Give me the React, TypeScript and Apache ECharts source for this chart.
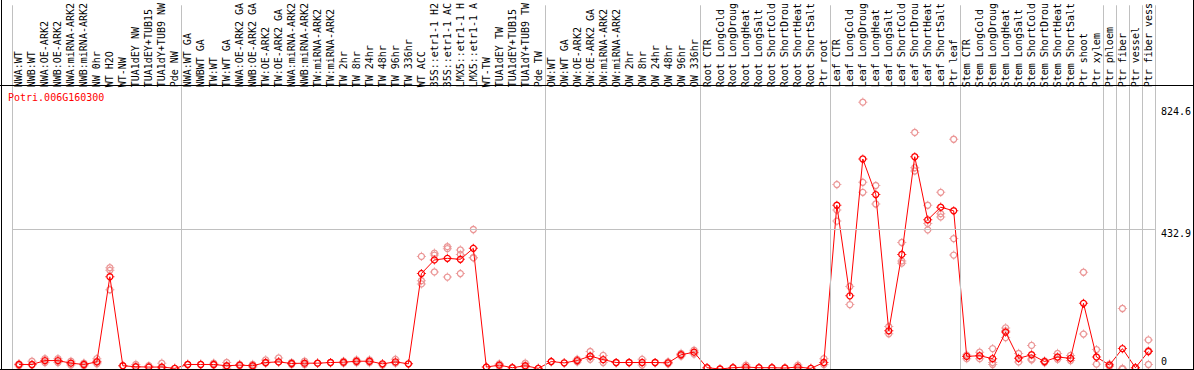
import React, { useEffect, useRef } from 'react';
import * as echarts from 'echarts';

const GENE = 'Potri.006G160300';

const CATEGORIES = [
  'NWA:WT', 'NWB:WT', 'NWA:OE-ARK2', 'NWB:OE-ARK2', 'NWA:miRNA-ARK2', 'NWB:miRNA-ARK2', 'NW 0hr', 'WT H2O', 'WT-NW',
  'TUA1dEY NW', 'TUA1dEY+TUB15', 'TUA1dY+TUB9 NW', 'Pde NW',
  'NWA:WT GA', 'NWBWT GA', 'TW:WT', 'TW:WT GA', 'NWA:OE-ARK2 GA', 'NWB:OE-ARK2 GA', 'TW:OE-ARK2', 'TW:OE-ARK2 GA',
  'NWA:miRNA-ARK2', 'NWB:miRNA-ARK2', 'TW:miRNA-ARK2', 'TW:miRNA-ARK2', 'TW 2hr', 'TW 8hr', 'TW 24hr', 'TW 48hr',
  'TW 96hr', 'TW 336hr', 'WT ACC', '35S::etr1-1 H2', '35S::etr1-1 AC', 'LMX5::etr1-1 H', 'LMX5::etr1-1 A', 'WT-TW',
  'TUA1dEY TW', 'TUA1dEY+TUB15', 'TUA1dY+TUB9 TW', 'Pde TW',
  'OW:WT', 'OW:WT GA', 'OW:OE-ARK2', 'OW:OE-ARK2 GA', 'OW:miRNA-ARK2', 'OW:miRNA-ARK2', 'OW 2hr', 'OW 8hr', 'OW 24hr',
  'OW 48hr', 'OW 96hr', 'OW 336hr',
  'Root CTR', 'Root LongCold', 'Root LongDroug', 'Root LongHeat', 'Root LongSalt', 'Root ShortCold', 'Root ShortDrou',
  'Root ShortHeat', 'Root ShortSalt', 'Ptr root',
  'Leaf CTR', 'Leaf LongCold', 'Leaf LongDroug', 'Leaf LongHeat', 'Leaf LongSalt', 'Leaf ShortCold', 'Leaf ShortDrou',
  'Leaf ShortHeat', 'Leaf ShortSalt', 'Ptr leaf',
  'Stem CTR', 'Stem LongCold', 'Stem LongDroug', 'Stem LongHeat', 'Stem LongSalt', 'Stem ShortCold', 'Stem ShortDrou',
  'Stem ShortHeat', 'Stem ShortSalt', 'Ptr shoot', 'Ptr xylem',
  'Ptr phloem', 'Ptr fiber', 'Ptr vessel', 'Ptr fiber vess',
];

const MEANS = [
  14, 14, 26, 26, 18, 14, 22, 285, 10, 7, 6, 6, 2,
  14, 14, 14, 10, 12, 10, 20, 22, 17, 18, 18, 20, 21, 24, 24, 16, 22, 16, 295, 337, 342, 339, 373, 6, 12, 4, 10, 2,
  23, 19, 26, 40, 29, 20, 20, 20, 20, 19, 44, 52,
  4, 0, 4, 6, 4, 4, 3, 6, 2, 20,
  506, 226, 649, 539, 118, 354, 656, 461, 500, 489,
  39, 41, 32, 114, 33, 44, 23, 37, 33, 203, 37,
  12, 63, 4, 54,
];

const REPS = [
  [16, 10], [24, 12], [32, 20], [32, 20], [24, 12], [18, 10], [32, 24, 16], [313, 305, 245], [10], [14, 6], [10], [18, 4, 0], [2],
  [14], [14], [18, 12], [20, 8, 2], [14, 10], [14, 6], [28, 18], [34, 22], [20, 14], [24, 14], [18], [20], [24, 18],
  [28, 20], [28, 20], [16, 12], [30, 18], [16], [348, 273, 263], [358, 352, 300], [378, 372, 284], [368, 354, 295],
  [431, 344, 344], [6], [16, 8], [4], [18, 6], [2],
  [23], [19], [30, 22], [54, 38, 30], [42, 20], [20], [20], [30, 12], [20], [22, 16], [48, 40], [58, 46],
  [4], [0], [4], [12, 2], [4], [4], [3], [12, 2], [2], [32, 14],
  [570, 491, 457], [255, 199], [824.6, 577, 546], [567, 510], [131, 109], [391, 334, 327], [731, 622, 612],
  [506, 450, 430], [546, 480, 470], [710, 403, 352],
  [43, 32], [52, 32], [63, 20, 14], [127, 118, 97], [48, 22], [73, 31, 28], [25, 20], [48, 30], [42, 26], [299, 108], [60, 15],
  [15, 8], [187, 2, 0], [4], [90, 57, 14],
];

const GROUP_BOUNDS = [0, 13, 41, 53, 63, 73, 84, 85, 86, 87, 88];
const Y_TICKS = [0, 432.9, 824.6];
const Y_GRIDLINES = [432.9];

const FONT = 'DejaVu Sans Mono';
const MEAN_COLOR = '#ff0000';
const REP_COLOR = '#eb9696';
const TICKS =
  'path://' +
  'M-0.5,-4.6L0.5,-4.6L0.5,-3.2L-0.5,-3.2Z' +
  'M-0.5,3.2L0.5,3.2L0.5,4.6L-0.5,4.6Z' +
  'M-4.6,-0.5L-3.2,-0.5L-3.2,0.5L-4.6,0.5Z' +
  'M3.2,-0.5L4.6,-0.5L4.6,0.5L3.2,0.5Z';

export default function App() {
  const ref = useRef<HTMLDivElement>(null);

  useEffect(() => {
    if (!ref.current) return;
    const chart = echarts.init(ref.current, undefined, { renderer: 'svg' });
    const repData = REPS.flatMap((arr, i) => arr.map((v) => [i, v]));
    const yStyles = ['b', 'm', 't'];

    const ringStyle = (c: string) => ({ color: 'rgba(255,255,255,0)', borderColor: c, borderWidth: 1.3, opacity: 1 });

    chart.setOption({
      animation: false,
      backgroundColor: '#fff',
      grid: { left: 12.5, right: 37.5, top: 0, bottom: 1, containLabel: false },
      xAxis: [
        {
          type: 'category',
          data: CATEGORIES,
          position: 'top',
          offset: -85,
          boundaryGap: true,
          axisLine: { show: false },
          axisTick: { show: false },
          splitLine: { show: false },
          axisLabel: {
            interval: 0,
            rotate: 90,
            margin: 3,
            fontSize: 10,
            fontFamily: FONT,
            color: '#000',
          },
        },
        { type: 'value', min: 0, max: 88, show: false },
      ],
      yAxis: {
        type: 'value',
        min: 0,
        max: 1124,
        position: 'right',
        splitLine: { show: false },
        axisLine: { show: false },
        axisTick: { show: false },
        axisLabel: {
          customValues: Y_TICKS,
          margin: 6,
          fontSize: 10,
          fontFamily: FONT,
          color: '#000',
          formatter: (v: number) => {
            const idx = Y_TICKS.indexOf(v);
            return '{' + (yStyles[idx] || 'm') + '|' + v + '}';
          },
          rich: {
            b: { fontSize: 10, fontFamily: FONT, color: '#000', padding: [0, 0, 16, 0] },
            m: { fontSize: 10, fontFamily: FONT, color: '#000', padding: [10, 0, 0, 0] },
            t: { fontSize: 10, fontFamily: FONT, color: '#000', padding: [18, 0, 0, 0] },
          },
        },
      },
      graphic: [
        { type: 'line', shape: { x1: 0, y1: 85.5, x2: 1194, y2: 85.5 }, style: { stroke: '#000', lineWidth: 1 }, z: 10 },
        { type: 'line', shape: { x1: 1.5, y1: 0, x2: 1.5, y2: 370 }, style: { stroke: '#000', lineWidth: 1 }, z: 10 },
        { type: 'line', shape: { x1: 1193.5, y1: 0, x2: 1193.5, y2: 370 }, style: { stroke: '#000', lineWidth: 1 }, z: 10 },
        { type: 'line', shape: { x1: 0, y1: 369.5, x2: 1194, y2: 369.5 }, style: { stroke: '#000', lineWidth: 1 }, z: 10 },
        {
          type: 'text',
          x: 8,
          y: 97,
          style: { text: GENE, fill: MEAN_COLOR, fontSize: 10, fontFamily: FONT, verticalAlign: 'middle' },
          z: 10,
        },
      ],
      series: [
        {
          type: 'line',
          xAxisIndex: 1,
          yAxisIndex: 0,
          data: [],
          silent: true,
          markLine: {
            silent: true,
            symbol: 'none',
            label: { show: false },
            lineStyle: { color: '#c0c0c0', width: 1, type: 'solid' },
            data: [
              ...GROUP_BOUNDS.map((b) => ({ xAxis: b })),
              ...Y_GRIDLINES.map((v) => ({ yAxis: v })),
            ],
          },
        },
        {
          type: 'scatter',
          xAxisIndex: 0,
          data: repData,
          symbol: 'circle',
          symbolSize: 6,
          itemStyle: ringStyle(REP_COLOR),
          silent: true,
          z: 3,
        },
        {
          type: 'scatter',
          xAxisIndex: 0,
          data: repData,
          symbol: TICKS,
          symbolSize: 9.2,
          itemStyle: { color: REP_COLOR },
          silent: true,
          z: 3,
        },
        {
          type: 'line',
          xAxisIndex: 0,
          data: MEANS,
          symbol: 'circle',
          symbolSize: 6,
          showAllSymbol: true,
          itemStyle: ringStyle(MEAN_COLOR),
          lineStyle: { color: MEAN_COLOR, width: 1 },
          silent: true,
          z: 4,
        },
        {
          type: 'scatter',
          xAxisIndex: 0,
          data: MEANS.map((v, i) => [i, v]),
          symbol: TICKS,
          symbolSize: 9.2,
          itemStyle: { color: MEAN_COLOR },
          silent: true,
          z: 4,
        },
      ],
    });

    return () => chart.dispose();
  }, []);

  return (
    <div
      ref={ref}
      style={{ position: 'fixed', left: 0, top: 0, width: 1194, height: 370, background: '#fff' }}
    />
  );
}
